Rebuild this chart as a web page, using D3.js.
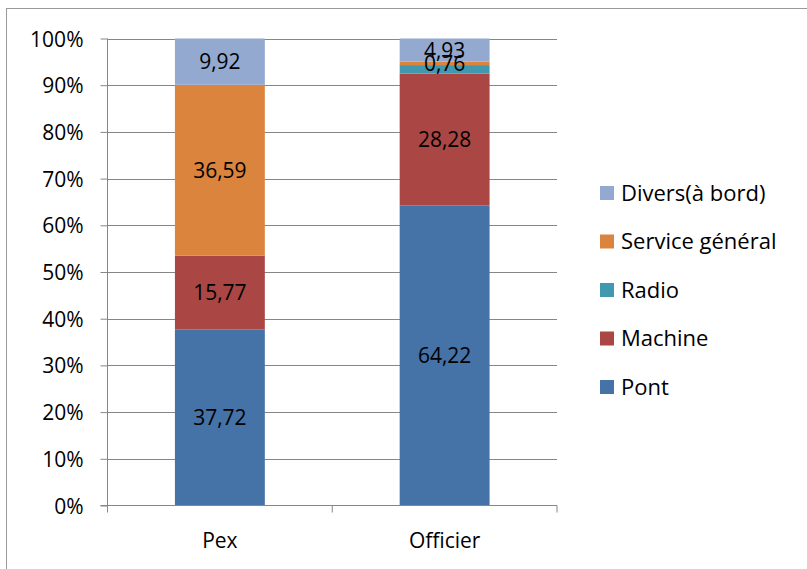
<!DOCTYPE html>
<html><head><meta charset="utf-8">
<script src="https://cdn.jsdelivr.net/npm/d3@7"></script>
<style>body{margin:0;background:#fff}svg{display:block}</style>
</head><body>
<script>
const categories = ["Pex", "Officier"];
const seriesNames = ["Pont", "Machine", "Radio", "Service général", "Divers(à bord)"];
const pont = [37.72, 64.22];
const machine = [15.77, 28.28];
const radio = [0, 1.81];
const serviceGeneral = [36.59, 0.76];
const divers = [9.92, 4.93];
const showLabel = [true, true, false, true, true];
const colors = ["#4572A7", "#AA4643", "#4198AF", "#DB843D", "#93A9CF"];
const yTicks = [0,10,20,30,40,50,60,70,80,90,100];

const W = 807, H = 569;
const font = "Open Sans, sans-serif";
const fs = 21;
const svg = d3.select("body").append("svg").attr("width", W).attr("height", H);
svg.append("rect").attr("x", 6.5).attr("y", 8.5).attr("width", W+10).attr("height", H+10)
  .attr("fill", "#fff").attr("stroke", "#999").attr("stroke-width", 1);

const m = {l: 107.5, r: 557, t: 38.5, b: 505.5};
const x = d3.scaleBand().domain(categories).range([m.l, m.r]).paddingInner(0.6).paddingOuter(0.3);
const xb = d3.scaleBand().domain(categories).range([m.l, m.r]);
const y = d3.scaleLinear().domain([0, 100]).range([m.b, m.t]);

const g = svg.append("g");
g.selectAll("line.grid").data(yTicks.filter(d => d > 0)).join("line")
  .attr("x1", m.l).attr("x2", m.r).attr("y1", d => Math.round(y(d))+0.5).attr("y2", d => Math.round(y(d))+0.5)
  .attr("stroke", "#868686").attr("stroke-width", 1);

const seriesVals = [pont, machine, radio, serviceGeneral, divers];
const table = categories.map((c, i) => {
  const o = {cat: c};
  const tot = d3.sum(seriesVals, s => s[i]);
  seriesNames.forEach((n, k) => o[n] = seriesVals[k][i] / tot * 100);
  return o;
});
const stack = d3.stack().keys(seriesNames)(table);

stack.forEach((layer, k) => {
  g.selectAll(null).data(layer).join("rect")
    .attr("x", d => x(d.data.cat)).attr("width", x.bandwidth())
    .attr("y", d => y(d[1])).attr("height", d => y(d[0]) - y(d[1]))
    .attr("fill", colors[k]);
});
stack.forEach((layer, k) => {
  if (!showLabel[k]) return;
  g.selectAll(null).data(layer.map((d, i) => ({d, i})).filter(o => seriesVals[k][o.i] > 0)).join("text")
    .attr("x", o => x(o.d.data.cat) + x.bandwidth()/2)
    .attr("y", o => y((o.d[0] + o.d[1]) / 2))
    .attr("dy", "0.36em").attr("text-anchor", "middle")
    .attr("font-family", font).attr("font-size", fs).attr("fill", "#000")
    .text(o => seriesVals[k][o.i].toFixed(2).replace(".", ","));
});

const yAxis = svg.append("g").attr("transform", `translate(${m.l},0)`)
  .call(d3.axisLeft(y).tickValues(yTicks).tickSize(7).tickPadding(17).tickFormat(d => d + "%"));
yAxis.select(".domain").attr("stroke", "#868686").attr("d", `M0,${m.t}V${m.b}`);
yAxis.selectAll(".tick line").attr("stroke", "#868686");
yAxis.selectAll("text").attr("font-family", font).attr("font-size", fs).attr("fill", "#000").attr("dy", "0.36em");

const xAxis = svg.append("g").attr("transform", `translate(0,${m.b})`);
xAxis.append("line").attr("x1", m.l - 7).attr("x2", m.r).attr("y1", 0).attr("y2", 0).attr("stroke", "#868686");
const bounds = [m.l, ...categories.map(c => xb(c) + xb.bandwidth())];
xAxis.selectAll("line.t").data(bounds).join("line")
  .attr("x1", d => d).attr("x2", d => d).attr("y1", 0).attr("y2", 7).attr("stroke", "#868686");
xAxis.selectAll("text").data(categories).join("text")
  .attr("x", d => xb(d) + xb.bandwidth()/2).attr("y", 35).attr("dy", "0.36em").attr("text-anchor", "middle")
  .attr("font-family", font).attr("font-size", fs).attr("fill", "#000").text(d => d);

const legendOrder = seriesNames.map((n, k) => ({n, c: colors[k]})).reverse();
const lg = svg.append("g");
legendOrder.forEach((o, i) => {
  const cy = 193 + i * 48.5;
  lg.append("rect").attr("x", 600).attr("y", cy - 7).attr("width", 14).attr("height", 14).attr("fill", o.c);
  lg.append("text").attr("x", 621).attr("y", cy).attr("dy", "0.36em")
    .attr("font-family", font).attr("font-size", 22).attr("fill", "#000").text(o.n);
});
</script>
</body></html>
